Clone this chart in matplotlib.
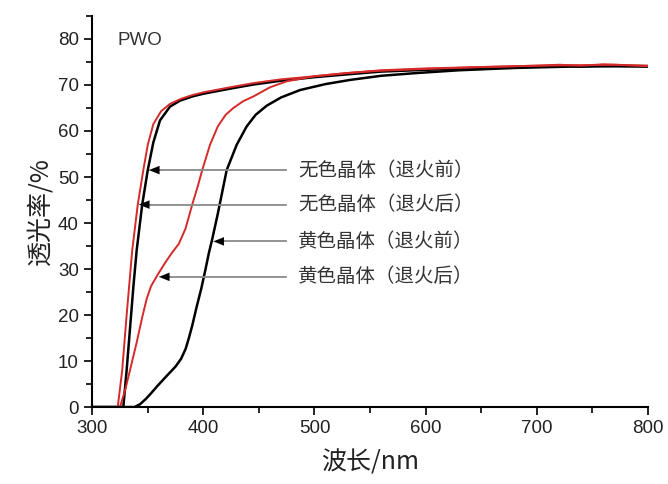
import matplotlib.pyplot as plt
from matplotlib.ticker import MultipleLocator

################## DATEN ##################
# 无色晶体 退火前 (schwarz)
wl_a = [300, 328, 331, 334, 337, 340, 345, 350, 355, 361, 370, 379, 390, 400, 424, 445,
        469, 500, 529, 559, 600, 650, 700, 720, 740, 760, 780, 800]
t_a = [0, 0, 8, 17, 26, 34, 44, 51.5, 57.5, 62.3, 65.3, 66.6, 67.5, 68.1, 69.2, 70.1,
       70.9, 71.7, 72.3, 72.9, 73.3, 73.7, 74.0, 74.2, 74.0, 74.3, 74.1, 74.0]

# 无色晶体 退火后 (rot)
wl_b = [300, 323, 327, 331, 336, 341, 346, 350, 355, 362, 370, 380, 390, 400, 424, 445,
        469, 500, 529, 559, 600, 650, 700, 720, 740, 760, 780, 800]
t_b = [0, 0, 8, 20, 34, 44, 51.5, 57, 61.5, 64.3, 65.9, 67.0, 67.8, 68.4, 69.5, 70.4,
       71.2, 71.9, 72.6, 73.1, 73.5, 73.9, 74.2, 74.4, 74.2, 74.5, 74.3, 74.1]

# 黄色晶体 退火前 (schwarz)
wl_c = [300, 338, 343, 348, 353, 358, 366, 375, 380, 384, 387, 390, 394, 398, 402, 405,
        408, 413, 421, 430, 439, 447, 457, 470, 487, 510, 532, 560, 592, 630, 680, 730, 800]
t_c = [0, 0, 0.6, 1.7, 3.0, 4.4, 6.5, 8.8, 10.5, 12.6, 15, 17.7, 21.8, 25.6, 30, 33.5,
       36.5, 42, 51.5, 57, 61, 63.5, 65.5, 67.3, 68.9, 70.2, 71.1, 72.0, 72.6, 73.2, 73.7, 74.0, 74.1]

# 黄色晶体 退火后 (rot)
wl_d = [300, 325, 330, 335, 340, 345, 349, 353, 359, 366, 372, 378, 384, 390, 395, 399,
        406, 413, 420, 427, 436, 445, 460, 475, 500, 530, 560, 600, 650, 700, 740, 770, 800]
t_d = [0, 0, 4, 9, 14, 19.5, 23.5, 26.3, 28.8, 31.5, 33.6, 35.5, 38.8, 44, 48, 51.5,
       57, 61, 63.5, 65, 66.5, 67.5, 69.5, 70.8, 71.9, 72.6, 73.2, 73.6, 73.9, 74.2, 74.3, 74.4, 74.2]

# Beschriftungen: Text, y-Wert des Pfeils, Pfeilspitze (nm)
labels = ["无色晶体（退火前）", "无色晶体（退火后）", "黄色晶体（退火前）", "黄色晶体（退火后）"]
arrow_y = [51.5, 44, 36, 28.3]
arrow_tip = [351, 342, 409, 360]

################## PLOT ##################
plt.rcParams["font.family"] = ["Liberation Sans", "Noto Sans CJK SC", "DejaVu Sans"]
cjk = ["Noto Sans CJK SC", "DejaVu Sans"]

fig = plt.figure(figsize=(6.68, 4.84), dpi=100)
ax = fig.add_axes([0.138, 0.159, 0.832, 0.808])

red = "#d42a2a"
ax.plot(wl_a, t_a, color="black", lw=1.8)
ax.plot(wl_c, t_c, color="black", lw=1.8)
ax.plot(wl_b, t_b, color=red, lw=1.4)
ax.plot(wl_d, t_d, color=red, lw=1.4)

for txt, y, tip in zip(labels, arrow_y, arrow_tip):
    ax.plot([tip + 3, 474], [y, y], color="#8a8a8a", lw=1.3, zorder=3)
    ax.annotate("", xy=(tip, y), xytext=(tip + 11, y),
                arrowprops=dict(arrowstyle="-|>,head_length=0.75,head_width=0.3",
                                color="black", lw=0.1, shrinkA=0, shrinkB=0), zorder=4)
    ax.text(485, y, txt, family=cjk, fontsize=14, color="#333333", va="center", ha="left")

ax.text(322.5, 79.6, "PWO", fontsize=13.5, color="#333333", va="center", ha="left")

ax.set_xlim(300, 800)
ax.set_ylim(0, 85)
ax.xaxis.set_major_locator(MultipleLocator(100))
ax.xaxis.set_minor_locator(MultipleLocator(50))
ax.yaxis.set_major_locator(MultipleLocator(10))
ax.yaxis.set_minor_locator(MultipleLocator(5))

ax.spines["top"].set_visible(False)
ax.spines["right"].set_visible(False)
for s in ["left", "bottom"]:
    ax.spines[s].set_linewidth(1.5)
ax.tick_params(which="major", direction="out", length=6, width=1.4, labelsize=13.5,
               colors="#222222")
ax.tick_params(which="minor", direction="out", length=4, width=1.2)

ax.set_xlabel("波长/nm", family=cjk, fontsize=18, color="#222222", labelpad=9)
ax.set_ylabel("透光率/%", family=cjk, fontsize=18, color="#222222", labelpad=3)

fig.savefig("out.png", dpi=100)
